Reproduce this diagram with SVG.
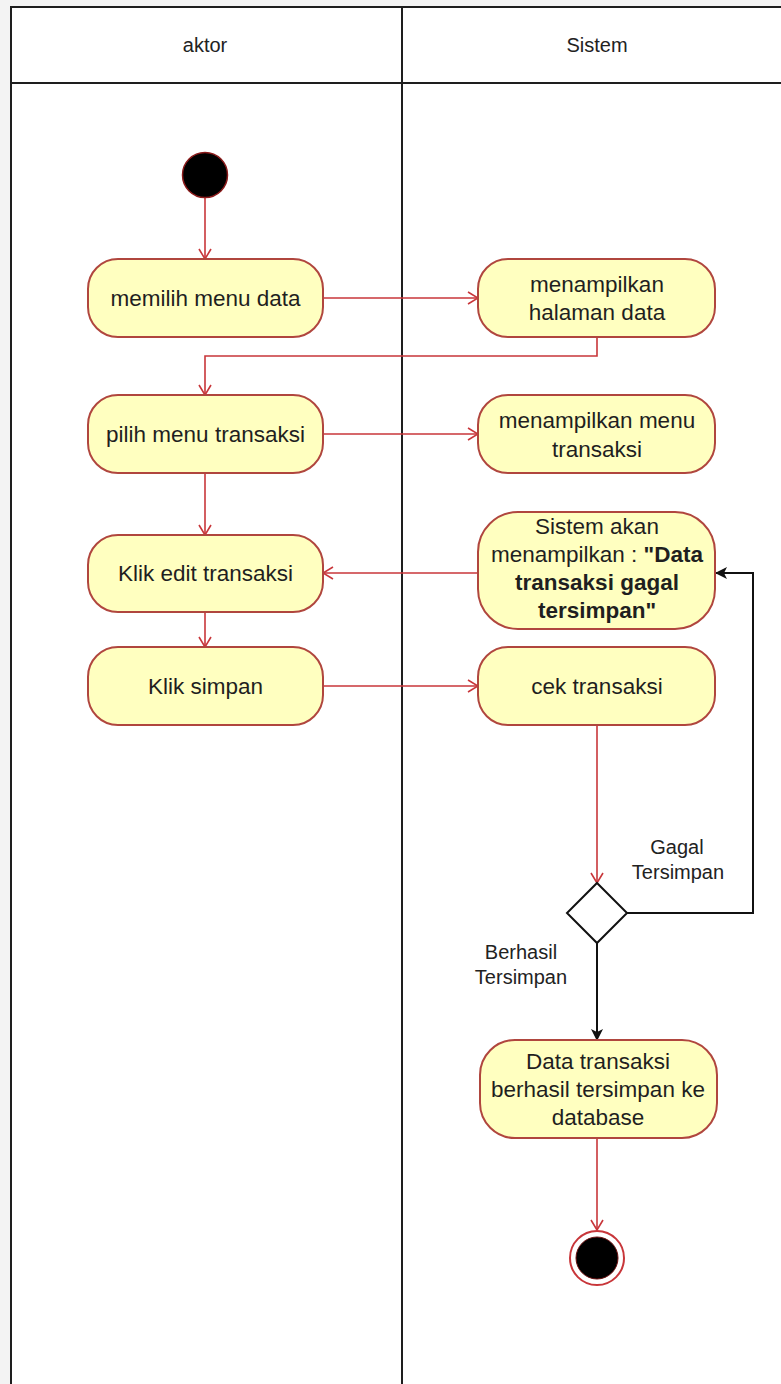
<svg xmlns="http://www.w3.org/2000/svg" width="781" height="1384" viewBox="0 0 781 1384">
  <style>
    .lane { fill: none; stroke: #1e1e1e; stroke-width: 2; }
    .act { fill: #ffffc0; stroke: #b0463e; stroke-width: 2; }
    .txt { font-family: "Liberation Sans", Arial, sans-serif; font-size: 22.5px; fill: #1f1f1f; text-anchor: middle; dominant-baseline: central; }
    .hdr { font-family: "Liberation Sans", Arial, sans-serif; font-size: 20px; fill: #222; text-anchor: middle; dominant-baseline: central; }
    .lbl { font-family: "Liberation Sans", Arial, sans-serif; font-size: 20px; fill: #222; text-anchor: middle; dominant-baseline: central; }
    .b { font-weight: bold; }
    .flow { fill: none; stroke: #c8363a; stroke-width: 1.6; marker-end: url(#open); }
    .guard { fill: none; stroke: #111; stroke-width: 2; marker-end: url(#solid); }
  </style>
  <defs>
    <marker id="open" viewBox="0 0 12 14" refX="11" refY="7" markerWidth="12" markerHeight="14" markerUnits="userSpaceOnUse" orient="auto">
      <path d="M1,1 L11,7 L1,13" fill="none" stroke="#c8363a" stroke-width="1.6"/>
    </marker>
    <marker id="solid" viewBox="0 0 12 12" refX="11" refY="6" markerWidth="12" markerHeight="12" markerUnits="userSpaceOnUse" orient="auto">
      <path d="M0,0 L12,6 L0,12 L3,6 Z" fill="#111"/>
    </marker>
  </defs>

  <!-- canvas and swimlanes -->
  <rect x="0" y="0" width="781" height="1384" fill="#f3f3f3"/>
  <rect x="11" y="7" width="790" height="1400" fill="#ffffff"/>
  <g id="lanes">
    <path class="lane" d="M11,1400 V7 H800"/>
    <path class="lane" d="M402,7 V1400"/>
    <path class="lane" d="M11,83 H800"/>
    <text class="hdr" x="205" y="45">aktor</text>
    <text class="hdr" x="597" y="45">Sistem</text>
  </g>

  <!-- connectors -->
  <g id="connectors">
    <path class="flow" d="M205,198 V259"/>
    <path class="flow" d="M323,298 H478"/>
    <path class="flow" d="M597,337 V356 H205 V395"/>
    <path class="flow" d="M323,434 H478"/>
    <path class="flow" d="M205,473 V535"/>
    <path class="flow" d="M478,573 H323"/>
    <path class="flow" d="M205,612 V647"/>
    <path class="flow" d="M323,686 H478"/>
    <path class="flow" d="M597,725 V883"/>
    <path class="guard" d="M627,913 H753 V573 H716"/>
    <path class="guard" d="M597,943 V1040"/>
    <path class="flow" d="M597,1138 V1230"/>
    <text class="lbl" x="677" y="847">Gagal</text>
    <text class="lbl" x="678" y="872">Tersimpan</text>
    <text class="lbl" x="521" y="952">Berhasil</text>
    <text class="lbl" x="521" y="977">Tersimpan</text>
  </g>

  <!-- start -->
  <g id="start">
    <circle cx="205" cy="175" r="22.5" fill="#000" stroke="#8a1a1a" stroke-width="1.5"/>
  </g>

  <!-- actor lane -->
  <g id="memilih-menu-data">
    <rect class="act" x="88" y="259" width="235" height="78" rx="30"/>
    <text class="txt" x="205.5" y="298">memilih menu data</text>
  </g>
  <g id="pilih-menu-transaksi">
    <rect class="act" x="88" y="395" width="235" height="78" rx="30"/>
    <text class="txt" x="205.5" y="434">pilih menu transaksi</text>
  </g>
  <g id="klik-edit-transaksi">
    <rect class="act" x="88" y="535" width="235" height="77" rx="30"/>
    <text class="txt" x="205.5" y="573">Klik edit transaksi</text>
  </g>
  <g id="klik-simpan">
    <rect class="act" x="88" y="647" width="235" height="78" rx="30"/>
    <text class="txt" x="205.5" y="686">Klik simpan</text>
  </g>

  <!-- system lane -->
  <g id="menampilkan-halaman-data">
    <rect class="act" x="478" y="259" width="237" height="78" rx="30"/>
    <text class="txt" x="597" y="284">menampilkan</text>
    <text class="txt" x="597" y="312">halaman data</text>
  </g>
  <g id="menampilkan-menu-transaksi">
    <rect class="act" x="478" y="395" width="237" height="78" rx="30"/>
    <text class="txt" x="597" y="420">menampilkan menu</text>
    <text class="txt" x="597" y="449">transaksi</text>
  </g>
  <g id="pesan-gagal">
    <rect class="act" x="478" y="512" width="237" height="117" rx="40"/>
    <text class="txt" x="597" y="526">Sistem akan</text>
    <text class="txt" x="597" y="554">menampilkan : <tspan class="b">"Data</tspan></text>
    <text class="txt b" x="597" y="582">transaksi gagal</text>
    <text class="txt b" x="597" y="610">tersimpan"</text>
  </g>
  <g id="cek-transaksi">
    <rect class="act" x="478" y="647" width="237" height="78" rx="30"/>
    <text class="txt" x="597" y="686">cek transaksi</text>
  </g>
  <g id="keputusan">
    <path d="M597,883 L627,913 L597,943 L567,913 Z" fill="#fff" stroke="#111" stroke-width="2"/>
  </g>
  <g id="data-tersimpan">
    <rect class="act" x="480" y="1040" width="237" height="98" rx="35"/>
    <text class="txt" x="598" y="1061">Data transaksi</text>
    <text class="txt" x="598" y="1089">berhasil tersimpan ke</text>
    <text class="txt" x="598" y="1117">database</text>
  </g>

  <!-- end -->
  <g id="end">
    <circle cx="597" cy="1258" r="27" fill="#fff" stroke="#c8363a" stroke-width="2"/>
    <circle cx="597" cy="1258" r="21" fill="#000" stroke="#6a1010" stroke-width="1"/>
  </g>
</svg>
